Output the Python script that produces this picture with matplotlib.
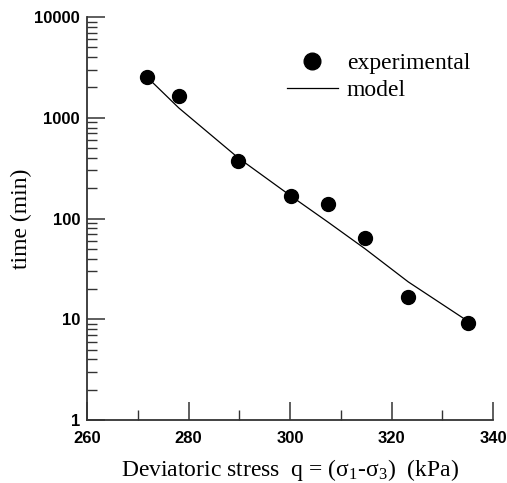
import matplotlib
matplotlib.use("Agg")
import matplotlib.pyplot as plt
from matplotlib.ticker import LogLocator, MultipleLocator, FixedLocator, NullFormatter

plt.rcParams['mathtext.fontset'] = 'custom'
plt.rcParams['mathtext.rm'] = 'Liberation Serif'
plt.rcParams['mathtext.it'] = 'Liberation Serif:italic'

# experimental data
exp_stress = [271.8, 278.1, 289.8, 300.2, 307.5, 314.8, 323.3, 335.0]
exp_time = [2540, 1640, 375, 168, 140, 64, 16.8, 9.2]
# model curve
model_stress = [271.8, 278.1, 289.8, 300.2, 307.5, 314.8, 323.3, 335.0]
model_time = [2540, 1250, 400, 167, 92, 50, 23.5, 9.6]

x_ticks = [260, 280, 300, 320, 340]
y_ticks = [1, 10, 100, 1000, 10000]
y_tick_labels = ["1", "10", "100", "1000", "10000"]

fig = plt.figure(figsize=(5.07, 4.83), dpi=100)
ax = fig.add_axes([0.1716, 0.1304, 0.8008, 0.8344])

ax.plot(model_stress, model_time, color='black', lw=0.9, label='model', zorder=2)
ax.plot(exp_stress, exp_time, 'o', color='black', ms=10, label='experimental', zorder=3)

ax.set_yscale('log')
ax.set_xlim(260, 340)
ax.set_ylim(1, 10000)

for s in ['top', 'right']:
    ax.spines[s].set_visible(False)
for s in ['left', 'bottom']:
    ax.spines[s].set_linewidth(1.3)
    ax.spines[s].set_color('#333333')

ax.xaxis.set_major_locator(FixedLocator(x_ticks))
ax.xaxis.set_minor_locator(MultipleLocator(10))
ax.yaxis.set_major_locator(FixedLocator(y_ticks))
ax.set_yticklabels(y_tick_labels)
ax.yaxis.set_minor_locator(LogLocator(base=10, subs=[2, 3, 4, 5, 6, 7, 8, 9], numticks=20))
ax.yaxis.set_minor_formatter(NullFormatter())

ax.tick_params(which='major', direction='in', length=13, width=1.1, color='#333333')
ax.tick_params(which='minor', direction='in', length=7, width=1.0, color='#333333')
ax.tick_params(axis='y', which='major', pad=5)
ax.tick_params(axis='x', which='major', pad=8)
for lab in ax.get_xticklabels() + ax.get_yticklabels():
    lab.set_fontfamily('Liberation Sans')
    lab.set_fontweight('bold')
    lab.set_fontsize(12)

ax.set_xlabel('Deviatoric stress  q = (σ$_1$-σ$_3$)  (kPa)', fontfamily='Liberation Serif',
              fontsize=17, labelpad=8)
ax.set_ylabel('time (min)', fontfamily='Liberation Serif', fontsize=17)
ax.yaxis.set_label_coords(-0.135, 0.5)

handles, labels = ax.get_legend_handles_labels()
leg = ax.legend(handles[::-1], labels[::-1], loc='upper left', bbox_to_anchor=(0.4926, 0.912),
                frameon=False, prop={'family': 'Liberation Serif', 'size': 17},
                handlelength=2.16, handletextpad=0.38, labelspacing=0.25,
                borderaxespad=0, borderpad=0, markerscale=1.2)

fig.savefig('out.png', dpi=100)
